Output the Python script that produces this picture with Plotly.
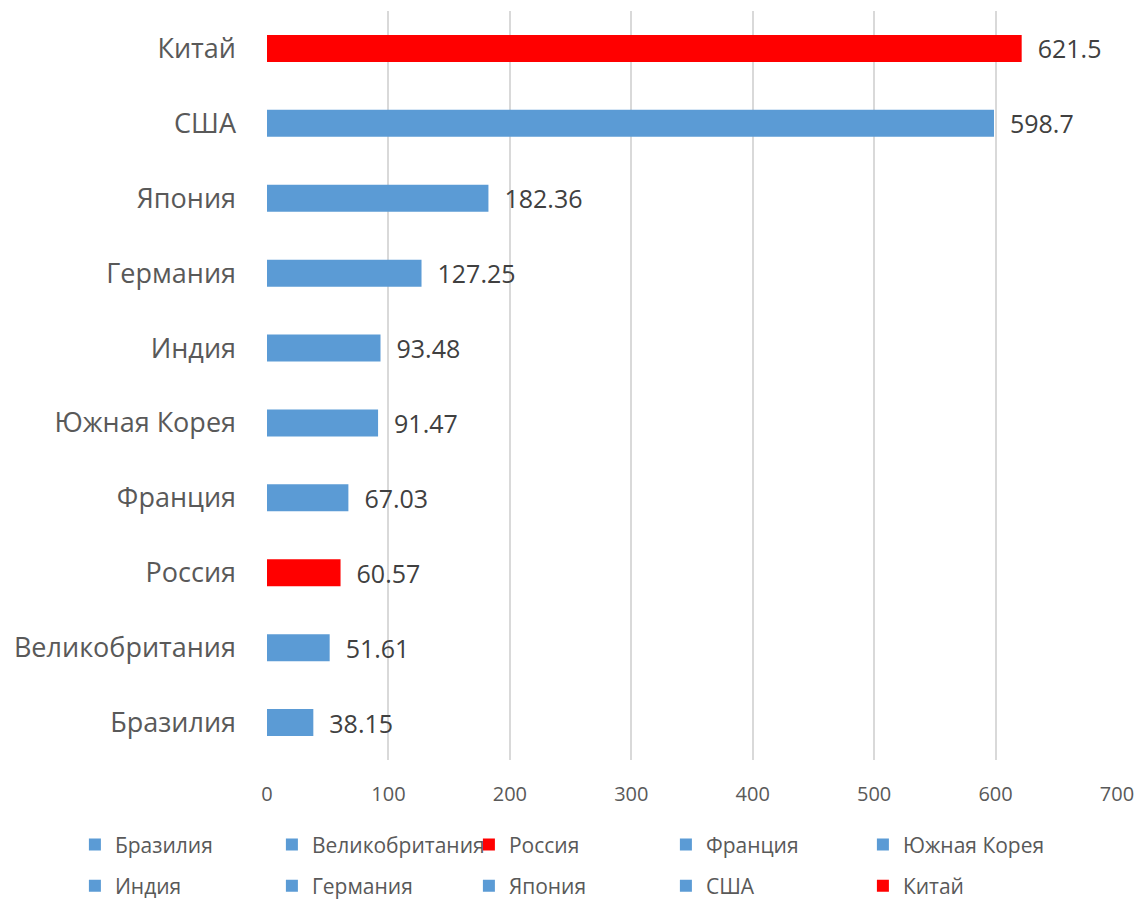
import plotly.graph_objects as go

# Countries listed bottom-to-top (legend order), with their values and colours
countries = ["Бразилия", "Великобритания", "Россия", "Франция", "Южная Корея",
             "Индия", "Германия", "Япония", "США", "Китай"]
values = [38.15, 51.61, 60.57, 67.03, 91.47, 93.48, 127.25, 182.36, 598.7, 621.5]
colors = ["#5B9BD5", "#5B9BD5", "#FF0000", "#5B9BD5", "#5B9BD5",
          "#5B9BD5", "#5B9BD5", "#5B9BD5", "#5B9BD5", "#FF0000"]
x_ticks = [0, 100, 200, 300, 400, 500, 600, 700]

fig = go.Figure()
for i, (name, val, col) in enumerate(zip(countries, values, colors)):
    fig.add_trace(go.Bar(
        name=name,
        y=[name],
        x=[val],
        orientation="h",
        width=0.36,
        marker=dict(color=col, line=dict(width=0)),
        text=[f"  {val:g}"],
        textposition="outside",
        constraintext="none",
        textfont=dict(family="Open Sans", size=25, color="#404040"),
        cliponaxis=False,
        legend="legend" if i < 5 else "legend2",
    ))

legend_common = dict(
    orientation="h",
    x=-0.226,
    xanchor="left",
    yanchor="top",
    entrywidth=152,
    entrywidthmode="pixels",
    traceorder="normal",
    font=dict(family="Open Sans", size=21, color="#595959"),
    itemwidth=30,
    bgcolor="rgba(0,0,0,0)",
)

fig.update_layout(
    width=1137,
    height=900,
    margin=dict(l=267, r=20, t=11, b=140, autoexpand=False),
    paper_bgcolor="white",
    plot_bgcolor="white",
    barmode="overlay",
    showlegend=True,
    legend=dict(legend_common, y=-0.086),
    legend2=dict(legend_common, y=-0.141),
    xaxis=dict(
        range=[0, 700],
        tickvals=x_ticks,
        showgrid=True,
        gridcolor="#D9D9D9",
        gridwidth=1.5,
        zeroline=False,
        showline=False,
        ticks="",
        ticklabelstandoff=20,
        tickfont=dict(family="Open Sans", size=20, color="#595959"),
    ),
    yaxis=dict(
        categoryorder="array",
        categoryarray=countries,
        showgrid=False,
        zeroline=False,
        showline=False,
        ticks="",
        ticklabelstandoff=30,
        tickfont=dict(family="Open Sans", size=27, color="#595959"),
    ),
)

fig.write_html("out.html")
